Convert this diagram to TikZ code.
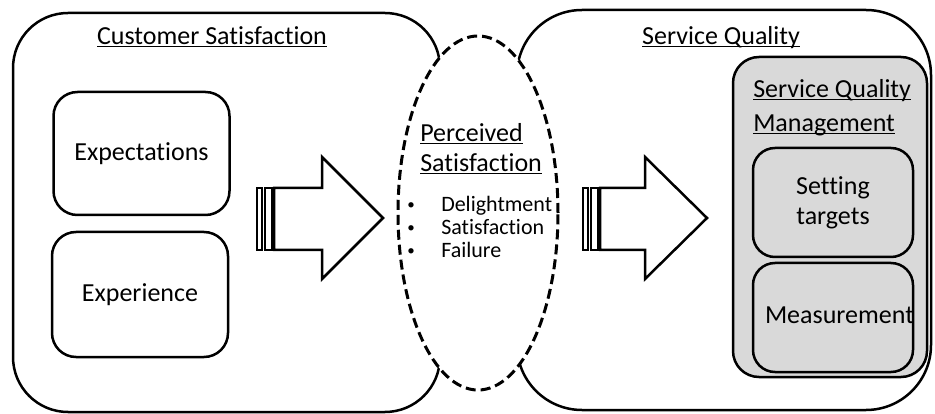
\documentclass[tikz,border=0pt]{standalone}
\usepackage{fontspec}
\setmainfont{Carlito}[Ligatures=NoCommon]
\usepackage{tikz}
\usetikzlibrary{shapes,positioning,calc}

\newcommand{\undl}[1]{\underline{\smash{#1}}\vphantom{#1}}

\begin{document}
\begin{tikzpicture}[x=1pt, y=-1pt, font=\fontsize{26}{30}\selectfont, line width=2.5pt, inner sep=0pt,
        bigbox/.style={draw, rounded corners=#1},
        smallbox/.style={draw, rounded corners=24pt, minimum width=176pt, minimum height=123pt},
        grayitem/.style={draw, fill=black!15, rounded corners=22pt, minimum width=160pt, minimum height=109pt, align=center},
        itemtext/.style={anchor=base west, font=\fontsize{22}{24}\selectfont}]
        \useasboundingbox (0,0) rectangle (935,414);
        % the two big areas, the ellipse lies over them
        \node[bigbox=55pt, minimum width=427pt, minimum height=399pt] (custbox) at (226.5,212.5) {};
        \node[bigbox=65pt, minimum width=414pt, minimum height=400pt] (servbox) at (724,210) {};
        \node[draw, ellipse, fill=white, line width=3pt, dash pattern=on 10pt off 5pt, minimum width=160pt, minimum height=354pt] (perceived) at (478,213) {};

        \node[anchor=base] (custtitle) at (212,45) {\undl{Customer Satisfaction}};
        \node[anchor=base] (servtitle) at (721,45) {\undl{Service Quality}};

        \node[smallbox] (expect) at (141.5,153.5) {Expectations};
        \node[smallbox, minimum height=125pt] (exper) at (140,294.5) {Experience};

        % striped block arrows
        \foreach \ax/\hb/\tp in {257/65/126, 583/62/124}{
            \draw[line width=2.5pt] (\ax,188) rectangle (\ax+5,250);
            \draw[line width=2pt] (\ax+8,188) rectangle (\ax+15,250);
            \draw[line join=miter] (\ax+17,188) -- (\ax+\hb,188) -- (\ax+\hb,157) -- (\ax+\tp,218)
                -- (\ax+\hb,279) -- (\ax+\hb,250) -- (\ax+17,250) -- cycle;
        }

        \node[anchor=base west] (perc1) at (419,142) {\undl{Perceived}};
        \node[anchor=base west] (perc2) at (419,172) {\undl{Satisfaction}};
        \foreach \txt [count=\i] in {Delightment, Satisfaction, Failure}{
            \node[itemtext] (item\i) at (406,189+23*\i) {\makebox[34pt][l]{\fontsize{15}{15}\selectfont\raisebox{2pt}{\textbullet}}\txt};
        }

        \node[draw, fill=black!15, rounded corners=26pt, minimum width=194pt, minimum height=320pt] (sqm) at (830,217) {};
        \node[anchor=base west] (sqm1) at (752,98) {\undl{Service Quality}};
        \node[anchor=base west] (sqm2) at (752,132) {\undl{Management}};
        \node[grayitem] (targets) at (833,202.5) {Setting\\targets};
        \node[grayitem] (meas) at (833,317.5) {};
        \node[anchor=west] (meastext) at ([xshift=12pt,yshift=2pt]meas.west) {Measurement};
\end{tikzpicture}
\end{document}
